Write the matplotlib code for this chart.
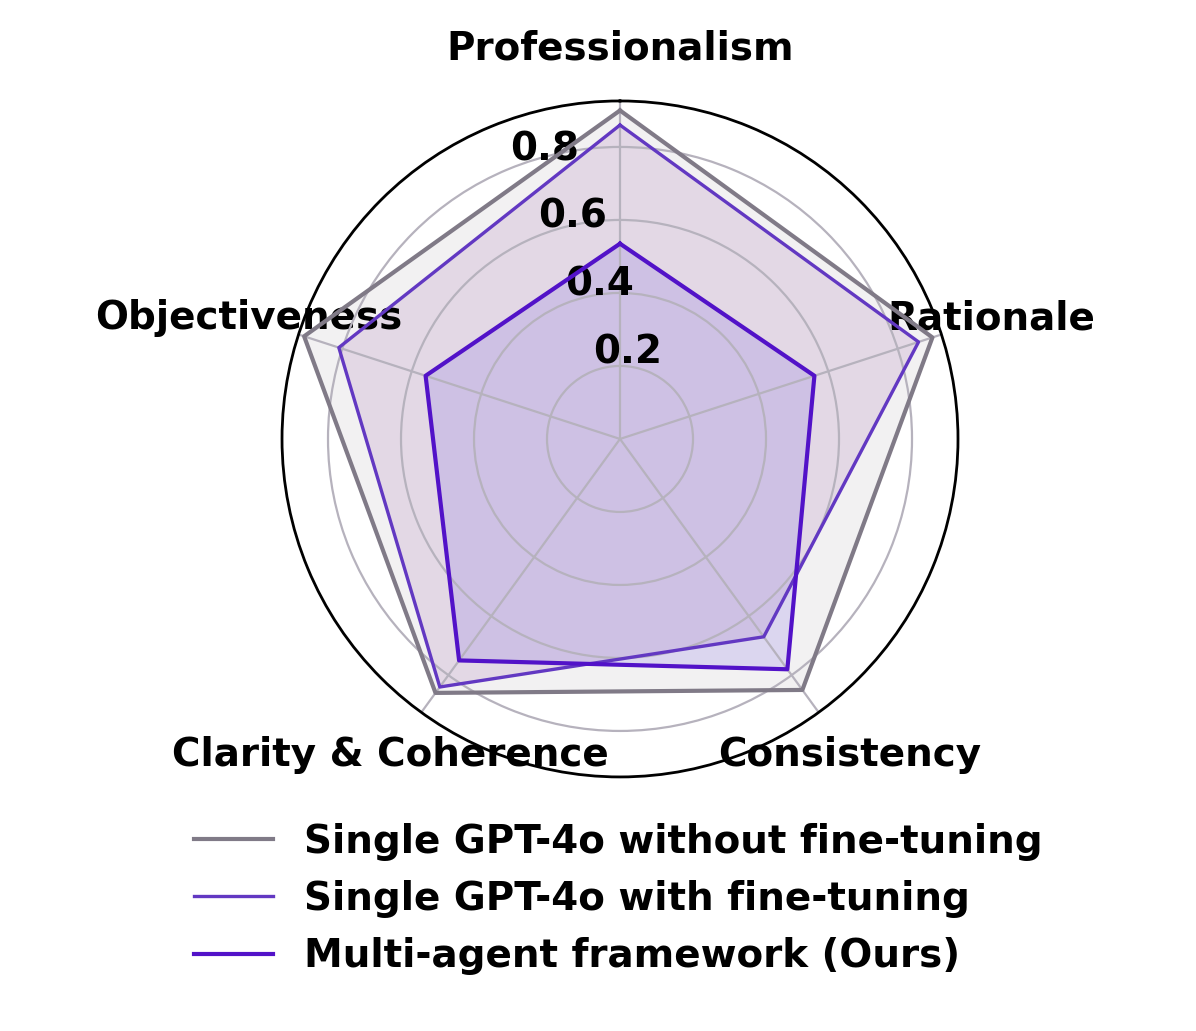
import numpy as np
import matplotlib
matplotlib.use("Agg")
import matplotlib.pyplot as plt

# ---------------------------------------------------------------------------
# Data
# ---------------------------------------------------------------------------
CATEGORIES = ["Professionalism", "Rationale", "Consistency",
              "Clarity & Coherence", "Objectiveness"]
NO_FT   = [0.90, 0.90, 0.85, 0.86, 0.91]
WITH_FT = [0.86, 0.86, 0.67, 0.84, 0.81]
OURS    = [0.535, 0.56, 0.78, 0.75, 0.56]
R_TICKS = [0.2, 0.4, 0.6, 0.8]

LABELS = ["Single GPT-4o without fine-tuning",
          "Single GPT-4o with fine-tuning",
          "Multi-agent framework (Ours)"]

# ---------------------------------------------------------------------------
# Styling
# ---------------------------------------------------------------------------
GREY   = "#807a87"
FT_COL = "#6238c2"
FT_FILL = "#8e4b9c"
OURS_COL = "#5212c8"
OURS_FILL = "#5a40e0"
GRID_COL = "#b6b2bd"
FS = 28

plt.rcParams["font.family"] = "DejaVu Sans"
plt.rcParams["font.weight"] = "bold"

angles = np.linspace(0, 2 * np.pi, len(CATEGORIES), endpoint=False)
ang_closed = np.concatenate([angles, angles[:1]])


def closed(vals):
    return np.concatenate([vals, vals[:1]])


fig = plt.figure(figsize=(11.96, 10.31), dpi=100)
ax = fig.add_axes([0.2358, 0.2464, 0.5652, 0.6557], polar=True)
ax.set_theta_offset(np.pi / 2)
ax.set_theta_direction(-1)

# fills sit under the grid, lines above it
ax.fill(ang_closed, closed(NO_FT), color=GREY, alpha=0.1, zorder=0.6)
ax.fill(ang_closed, closed(WITH_FT), color=FT_FILL, alpha=0.15, zorder=0.7)
ax.fill(ang_closed, closed(OURS), color=OURS_FILL, alpha=0.15, zorder=0.8)

ax.plot(ang_closed, closed(NO_FT), color=GREY, lw=3, label=LABELS[0], zorder=3)
ax.plot(ang_closed, closed(WITH_FT), color=FT_COL, lw=2.4, label=LABELS[1], zorder=4)
ax.plot(ang_closed, closed(OURS), color=OURS_COL, lw=3, label=LABELS[2], zorder=5)

ax.set_ylim(0, 0.926)
ax.set_yticks(R_TICKS)
ax.set_yticklabels([f"{t:.1f}" for t in R_TICKS], fontsize=FS, fontweight="bold")
ax.set_rlabel_position(-22)

ax.set_xticks(angles)
ax.set_xticklabels(CATEGORIES, fontsize=FS, fontweight="bold")
ax.tick_params(axis="x", pad=27)

ax.grid(True, color=GRID_COL, lw=1.6)
ax.spines["polar"].set_color("black")
ax.spines["polar"].set_linewidth(2)

fig.legend(loc="center", bbox_to_anchor=(0.517, 0.128), frameon=False,
           handlelength=2.05, prop={"weight": "bold", "size": FS})

fig.savefig("out.png", dpi=100)
